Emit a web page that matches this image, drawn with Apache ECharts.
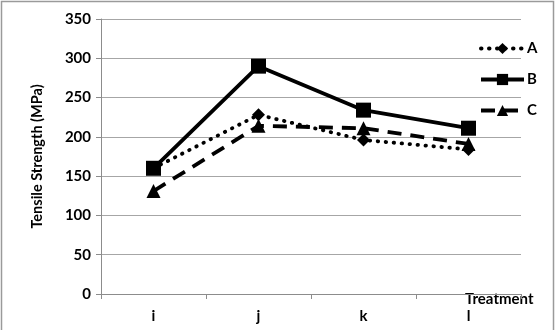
<!DOCTYPE html>
<html>
<head>
<meta charset="utf-8">
<script src="https://cdn.jsdelivr.net/npm/echarts@6/dist/echarts.min.js"></script>
<style>
  html, body { margin: 0; padding: 0; background: #fff; }
  #main { width: 560px; height: 330px; }
</style>
</head>
<body>
<div id="main"></div>
<script>
// treatments on x
const treatments = ['i', 'j', 'k', 'l'];
const yTicks = [0, 50, 100, 150, 200, 250, 300, 350];

// tensile strength (MPa)
const seriesA = [160, 228, 196, 184];
const seriesB = [160, 290, 234, 211];
const seriesC = [131, 214, 211, 191];

const font = 'Lato, "Open Sans", sans-serif';

const chart = echarts.init(document.getElementById('main'));

const mkSeries = (name, data, symbol, size, lineType, cap) => ({
  name: name,
  type: 'line',
  data: data,
  symbol: symbol,
  symbolSize: size,
  itemStyle: { color: '#000' },
  lineStyle: { color: '#000', width: 3.8, type: lineType, cap: cap },
  emphasis: { disabled: true },
  animation: false
});

chart.setOption({
  animation: false,
  grid: { left: 101, right: 39, top: 19, bottom: 36 },
  graphic: [
    {
      type: 'rect',
      shape: { x: 1.5, y: 1.5, width: 552, height: 340 },
      style: { fill: null, stroke: '#9a9a9a', lineWidth: 1.5 },
      silent: true
    },
    {
      type: 'text',
      left: 465, top: 292,
      style: { text: 'Treatment', font: 'bold 15px ' + font, fill: '#000' },
      silent: true
    }
  ],
  legend: {
    orient: 'vertical',
    left: 474,
    top: 36,
    itemWidth: 43,
    itemHeight: 14,
    itemGap: 16,
    itemStyle: { color: '#000' },
    lineStyle: { width: 4 },
    textStyle: { fontFamily: font, fontWeight: 'bold', fontSize: 15, color: '#000', padding: [0, 0, 0, -2] },
    data: ['A', 'B', 'C']
  },
  xAxis: {
    type: 'category',
    data: treatments,
    boundaryGap: true,
    axisLine: { lineStyle: { color: '#8c8c8c', width: 1 } },
    axisTick: { show: true, length: 5, lineStyle: { color: '#8c8c8c' } },
    axisLabel: { color: '#000', fontFamily: font, fontWeight: 'bold', fontSize: 15, margin: 15 },
    splitLine: { show: false }
  },
  yAxis: {
    type: 'value',
    min: yTicks[0],
    max: yTicks[yTicks.length - 1],
    interval: 50,
    name: 'Tensile Strength (MPa)',
    nameLocation: 'middle',
    nameGap: 56,
    nameTextStyle: { color: '#000', fontFamily: font, fontWeight: 'bold', fontSize: 14.5 },
    axisLine: { show: true, lineStyle: { color: '#8c8c8c', width: 1 } },
    axisTick: { show: true, length: 5, lineStyle: { color: '#8c8c8c' } },
    axisLabel: { color: '#000', fontFamily: font, fontWeight: 'bold', fontSize: 15, margin: 10 },
    splitLine: { lineStyle: { color: '#a6a6a6', width: 1 } }
  },
  series: [
    mkSeries('A', seriesA, 'diamond', 13, [0.5, 7.5], 'round'),
    mkSeries('B', seriesB, 'rect', 15, 'solid', 'butt'),
    mkSeries('C', seriesC, 'triangle', 14, [14, 9], 'butt')
  ]
});
</script>
</body>
</html>
